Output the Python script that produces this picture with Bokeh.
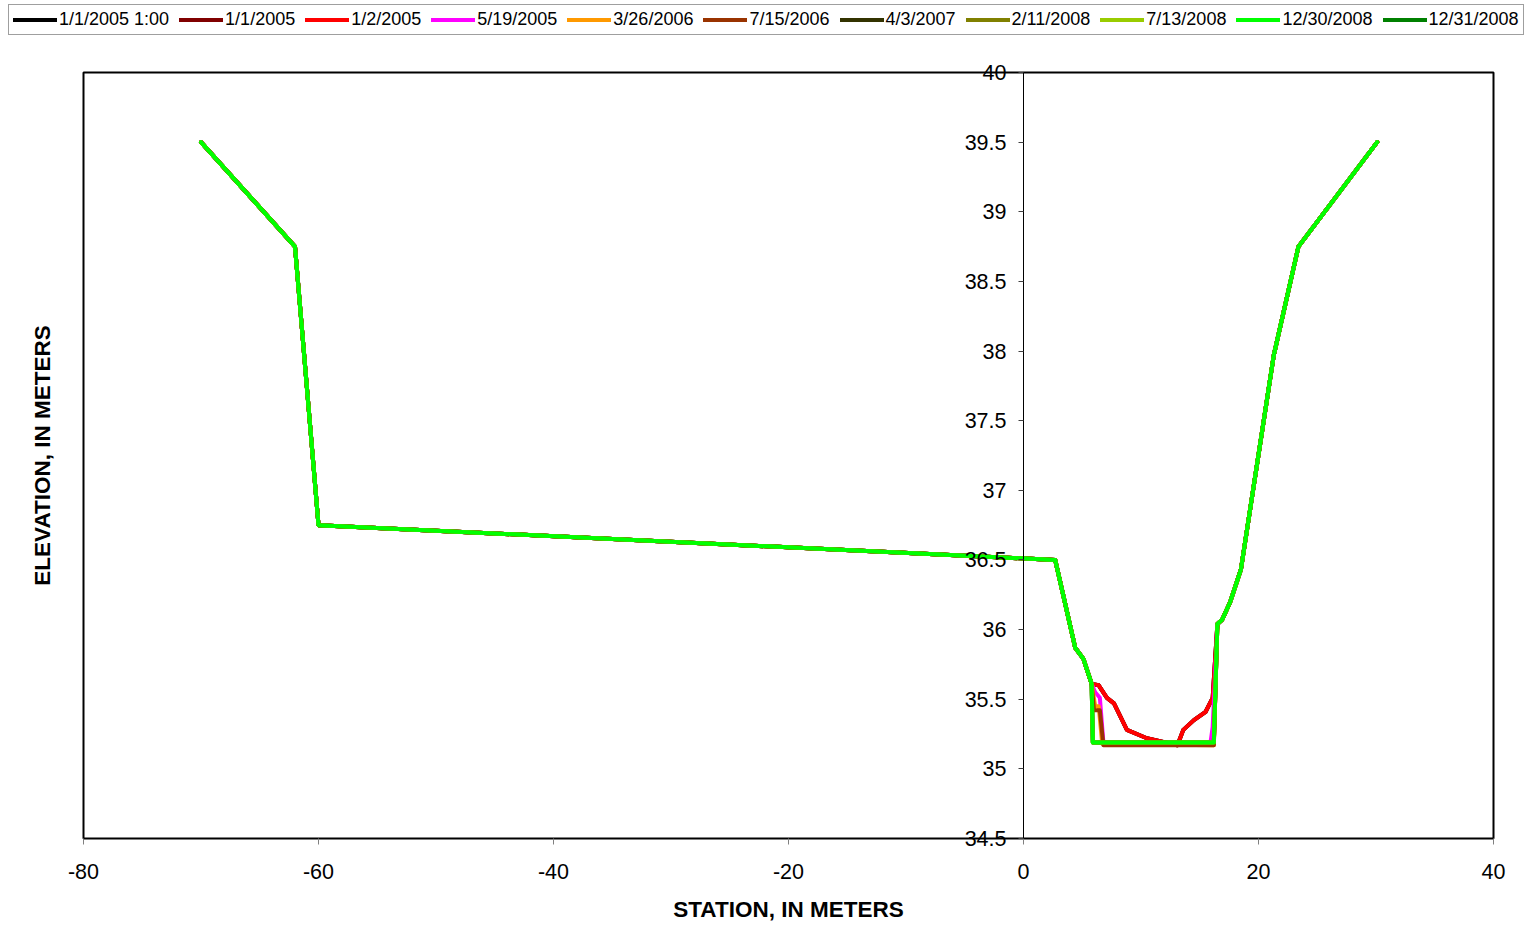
from bokeh.plotting import figure
from bokeh.models import (Range1d, LinearAxis, FixedTicker, Legend, LegendItem,
                          NumeralTickFormatter, BoxAnnotation)
from bokeh.embed import file_html
from bokeh.resources import INLINE

# ---------------- data ----------------
series_names = ["1/1/2005 1:00", "1/1/2005", "1/2/2005", "5/19/2005", "3/26/2006",
                "7/15/2006", "4/3/2007", "2/11/2008", "7/13/2008", "12/30/2008", "12/31/2008"]
series_colors = ["#000000", "#800000", "#FF0000", "#FF00FF", "#FF9900",
                 "#993300", "#333300", "#808000", "#99CC00", "#00FF00", "#008000"]

bank_left_x = [-70, -62, -60, 2.7, 4.4, 5.1, 5.8]
bank_left_y = [39.5, 38.75, 36.75, 36.5, 35.87, 35.79, 35.61]
bank_right_x = [16.5, 16.9, 17.6, 18.5, 21.3, 23.4, 30.1]
bank_right_y = [36.04, 36.07, 36.2, 36.43, 37.97, 38.75, 39.5]

ch_0100_x = [6.4, 7.1, 7.7, 8.8, 10.5, 13.1, 13.6, 14.5, 15.5, 16.1]
ch_0100_y = [35.6, 35.51, 35.47, 35.28, 35.22, 35.17, 35.28, 35.35, 35.41, 35.51]
ch_0101_x = [6.4, 7.1, 7.7, 8.8, 10.5, 13.1, 13.6, 14.5, 15.5, 16.1]
ch_0101_y = [35.6, 35.51, 35.47, 35.28, 35.22, 35.17, 35.28, 35.35, 35.41, 35.51]
ch_0102_x = [6.4, 7.1, 7.7, 8.8, 10.5, 13.1, 13.6, 14.5, 15.5, 16.1]
ch_0102_y = [35.6, 35.51, 35.47, 35.28, 35.22, 35.17, 35.28, 35.35, 35.41, 35.51]
ch_0519_x = [6.1, 6.5, 6.8, 15.9, 16.1]
ch_0519_y = [35.55, 35.51, 35.19, 35.18, 35.3]
ch_0326_x = [6.1, 6.4, 6.7, 16.2]
ch_0326_y = [35.45, 35.45, 35.18, 35.17]
ch_0715_x = [6.0, 6.5, 6.8, 16.2]
ch_0715_y = [35.42, 35.42, 35.17, 35.17]
ch_0403_x = [5.9, 16.2]
ch_0403_y = [35.19, 35.19]
ch_0211_x = [5.9, 16.2]
ch_0211_y = [35.19, 35.19]
ch_0713_x = [5.9, 16.2]
ch_0713_y = [35.19, 35.19]
ch_1230_x = [5.9, 16.2]
ch_1230_y = [35.19, 35.19]
ch_1231_x = [5.9, 16.2]
ch_1231_y = [35.19, 35.19]

channels_x = [ch_0100_x, ch_0101_x, ch_0102_x, ch_0519_x, ch_0326_x, ch_0715_x,
              ch_0403_x, ch_0211_x, ch_0713_x, ch_1230_x, ch_1231_x]
channels_y = [ch_0100_y, ch_0101_y, ch_0102_y, ch_0519_y, ch_0326_y, ch_0715_y,
              ch_0403_y, ch_0211_y, ch_0713_y, ch_1230_y, ch_1231_y]

x_min, x_max = -80, 40
y_min, y_max = 34.5, 40
x_ticks = [-80, -60, -40, -20, 0, 20, 40]
y_ticks = [34.5, 35, 35.5, 36, 36.5, 37, 37.5, 38, 38.5, 39, 39.5, 40]

FONT = "Liberation Sans"

# ---------------- layout (pixels) ----------------
W, H = 1533, 927
box_left, box_right, box_top, box_bottom = 83, 1493, 72, 838
xs_px = (box_right - box_left) / (x_max - x_min)
ys_px = (box_bottom - box_top) / (y_max - y_min)
# frame covers the whole canvas so nothing gets clipped
xr = Range1d(x_min - box_left / xs_px, x_max + (W - box_right) / xs_px)
yr = Range1d(y_min - (H - box_bottom) / ys_px, y_max + box_top / ys_px)

p = figure(width=W, height=H, output_backend="svg", toolbar_location=None,
           x_range=xr, y_range=yr, min_border=0,
           min_border_left=0, min_border_right=0, min_border_top=0, min_border_bottom=0)
p.xgrid.visible = False
p.ygrid.visible = False
p.outline_line_color = None
p.background_fill_color = "white"
p.border_fill_color = "white"

# plot box
p.add_layout(BoxAnnotation(left=x_min, right=x_max, bottom=y_min, top=y_max,
                           fill_color=None, fill_alpha=0, line_color="black",
                           line_alpha=1.0, line_width=2, level="underlay"))

# bottom axis
xa = p.xaxis[0]
xa.fixed_location = y_min
xa.bounds = (x_min, x_max)
xa.ticker = FixedTicker(ticks=x_ticks)
xa.formatter = NumeralTickFormatter(format="0")
xa.axis_line_color = None
xa.major_tick_in = 0
xa.major_tick_out = 6
xa.major_tick_line_color = "#808080"
xa.minor_tick_line_color = None
xa.major_label_text_font = FONT
xa.major_label_text_font_size = "21.5px"
xa.major_label_text_color = "black"
xa.major_label_standoff = 19
xa.axis_label = "STATION, IN METERS"
xa.axis_label_text_font = FONT
xa.axis_label_text_font_size = "22.5px"
xa.axis_label_text_font_style = "bold"
xa.axis_label_text_color = "black"
xa.axis_label_standoff = 15

# y axis drawn at station 0
ya = p.yaxis[0]
ya.fixed_location = 0
ya.bounds = (y_min, y_max)
ya.ticker = FixedTicker(ticks=y_ticks)
ya.formatter = NumeralTickFormatter(format="0.[0]")
ya.axis_line_color = "black"
ya.axis_line_width = 1
ya.major_tick_in = 0
ya.major_tick_out = 5
ya.major_tick_line_color = "#404040"
ya.minor_tick_line_color = None
ya.major_label_text_font = FONT
ya.major_label_text_font_size = "21.5px"
ya.major_label_text_color = "black"
ya.major_label_standoff = 12

# y axis title on the left edge of the box
ytitle = LinearAxis(fixed_location=x_min, bounds=(y_min, y_max),
                    ticker=FixedTicker(ticks=[]), axis_line_color=None,
                    major_tick_in=0, major_tick_out=0, minor_tick_line_color=None,
                    axis_label="ELEVATION, IN METERS", axis_label_text_font=FONT,
                    axis_label_text_font_size="22.5px", axis_label_text_font_style="bold",
                    axis_label_text_color="black", axis_label_standoff=29)
p.add_layout(ytitle, "left")

# ---------------- lines ----------------
renderers = [None] * len(series_names)
draw_order = [10, 0, 1, 2, 3, 4, 5, 6, 7, 8, 9]
for i in draw_order:
    xs = bank_left_x + channels_x[i] + bank_right_x
    ys = bank_left_y + channels_y[i] + bank_right_y
    renderers[i] = p.line(xs, ys, line_color=series_colors[i], line_width=4,
                          line_join="round", line_cap="round")

items = [LegendItem(label=series_names[i], renderers=[renderers[i]])
         for i in range(len(series_names))]
legend = Legend(items=items, orientation="horizontal", location=(8, H - 35),
                padding=4, spacing=10, glyph_width=44, glyph_height=19,
                label_height=19, label_standoff=2, margin=0,
                label_text_font=FONT, label_text_font_size="18px",
                label_text_color="black", border_line_color="#404040",
                border_line_width=1, background_fill_color="white",
                background_fill_alpha=1.0)
p.add_layout(legend)

open("out.html", "w").write(file_html(p, INLINE))
